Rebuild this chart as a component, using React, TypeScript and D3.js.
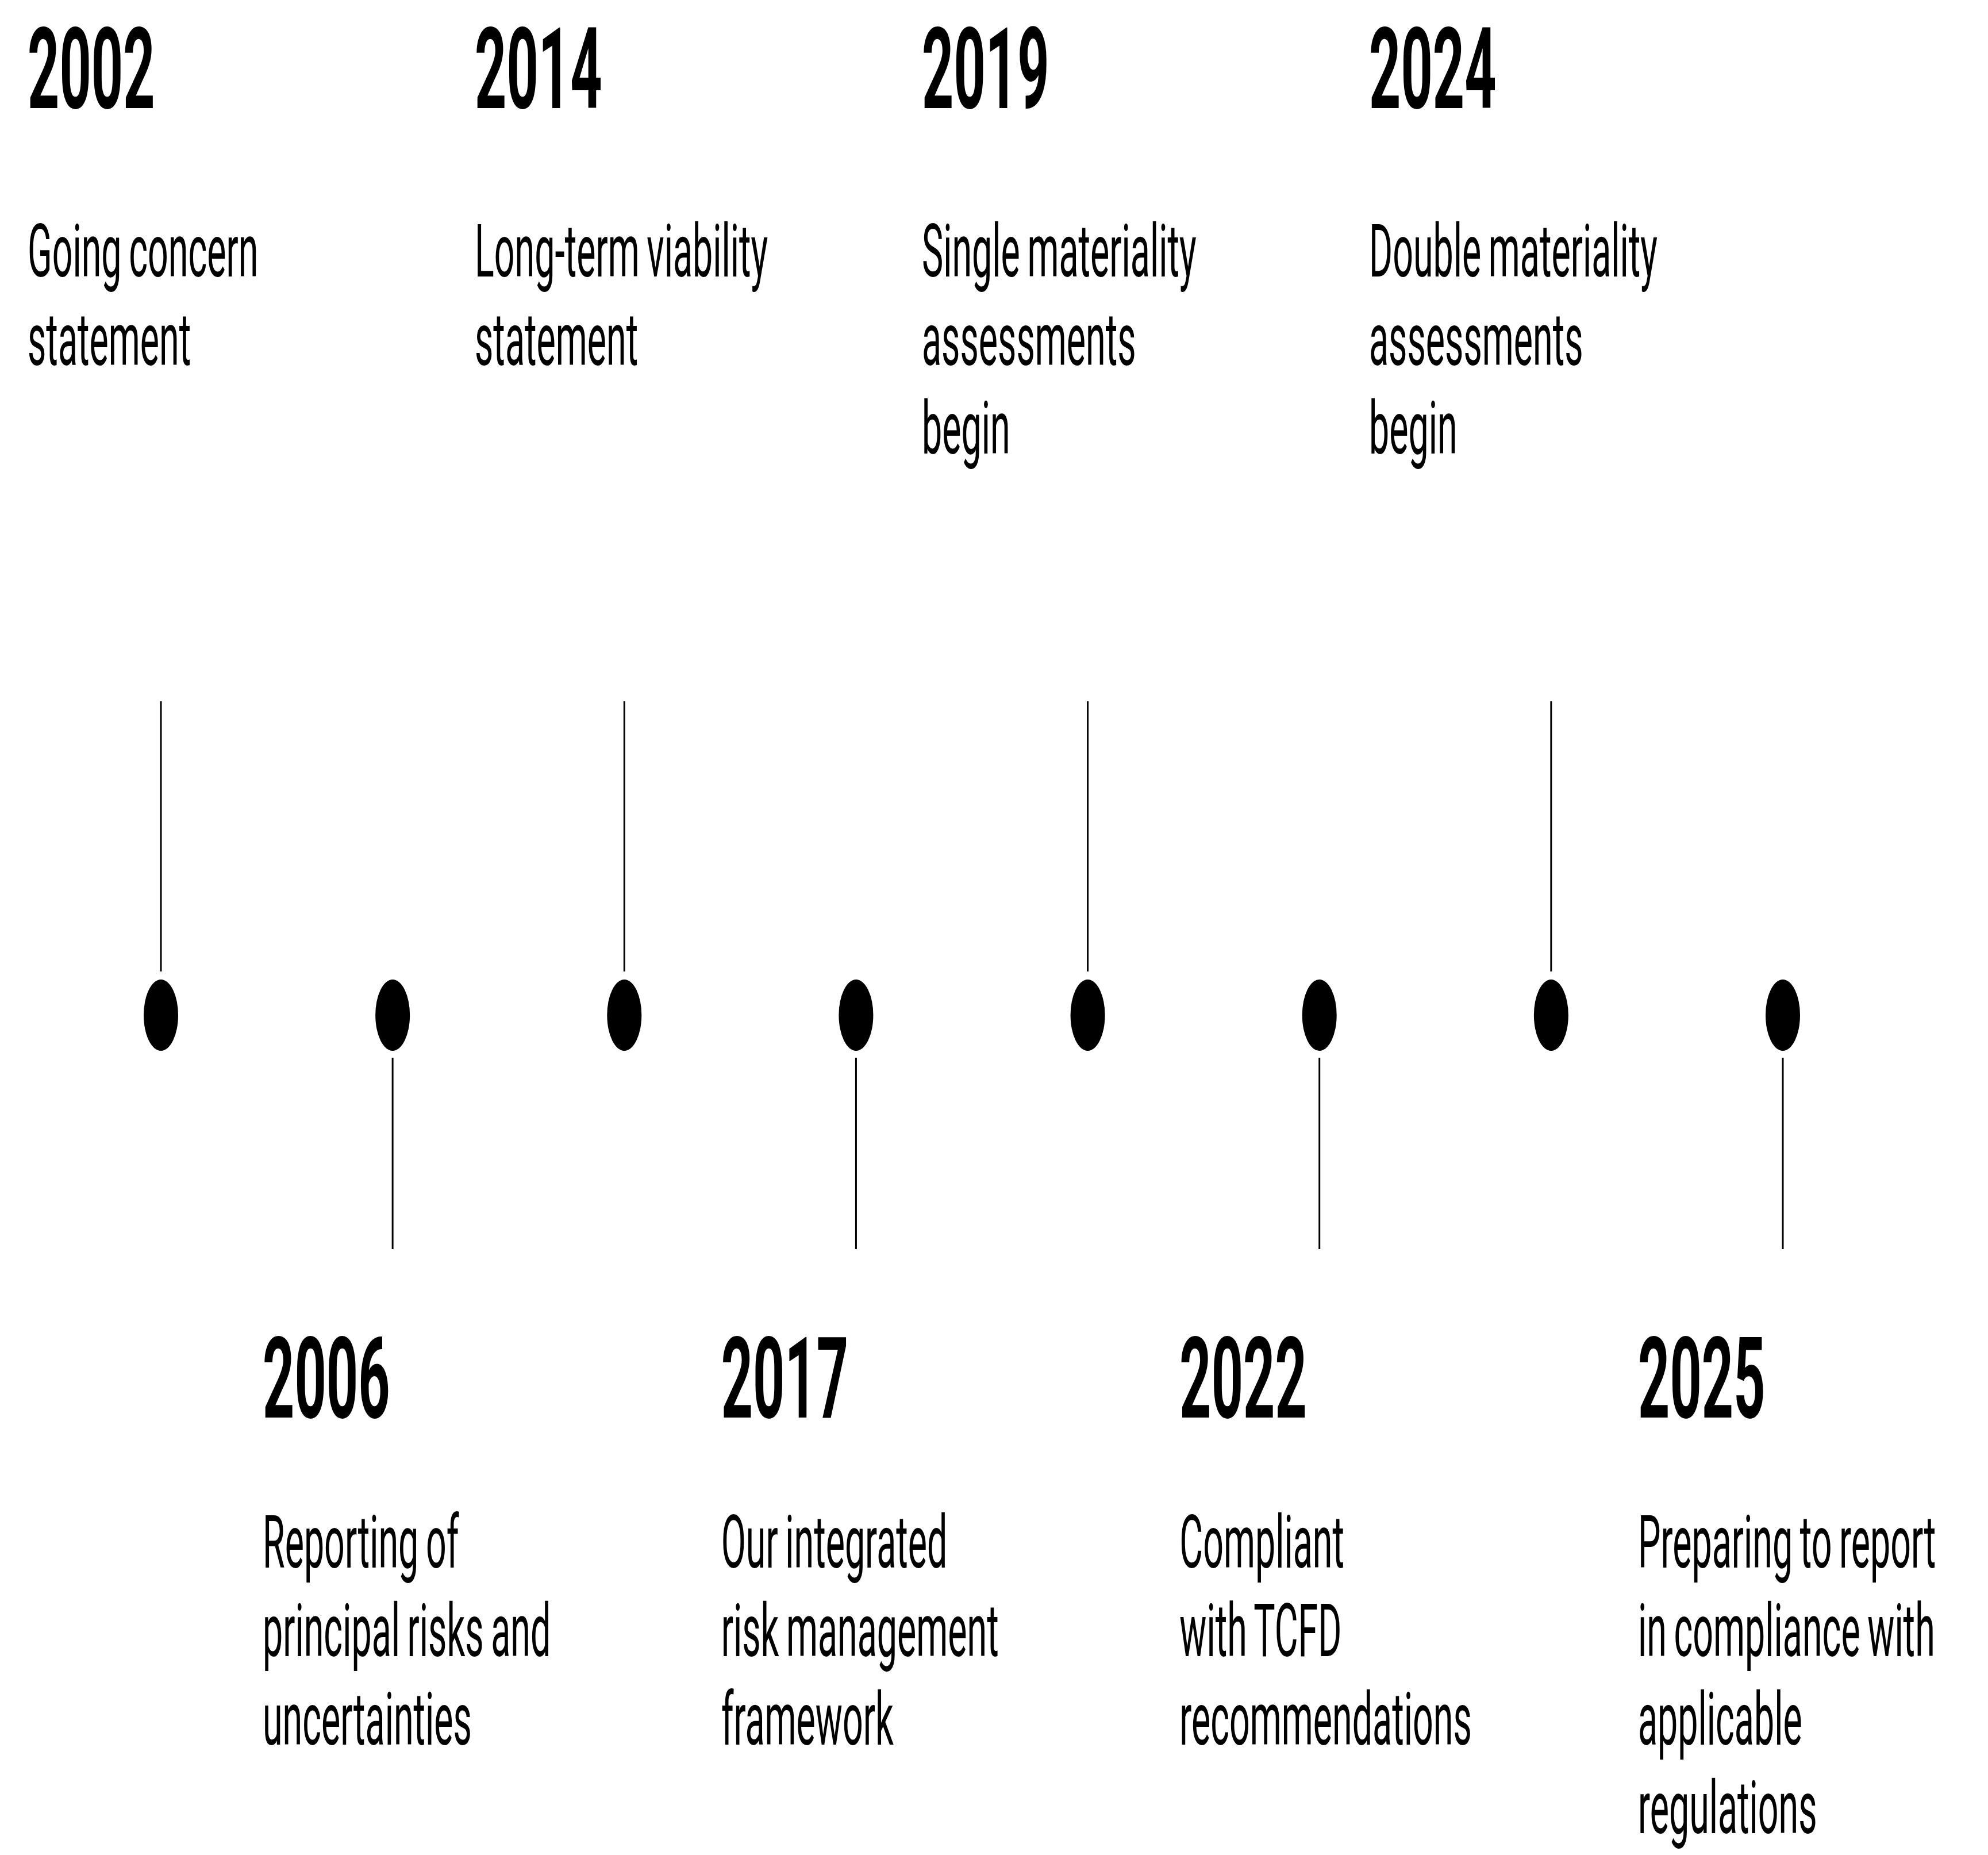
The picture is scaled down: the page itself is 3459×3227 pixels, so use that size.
import React, { useEffect, useRef } from 'react'
import * as d3 from 'd3'

const years = ['2002', '2006', '2014', '2017', '2019', '2022', '2024', '2025']
const sides = ['top', 'bottom', 'top', 'bottom', 'top', 'bottom', 'top', 'bottom']
const labels = [
    ['Going concern', 'statement'],
    ['Reporting of', 'principal risks and', 'uncertainties'],
    ['Long-term viability', 'statement'],
    ['Our integrated', 'risk management', 'framework'],
    ['Single materiality', 'assessments', 'begin'],
    ['Compliant', 'with TCFD', 'recommendations'],
    ['Double materiality', 'assessments', 'begin'],
    ['Preparing to report', 'in compliance with', 'applicable', 'regulations']
]

const W = 3459
const H = 3227

export default function App() {
    const ref = useRef(null)

    useEffect(() => {
        const svg = d3.select(ref.current)
        svg.selectAll('*').remove()

        const x = d3.scalePoint().domain(years).range([280, 3102])
        const dotY = 1766

        // text columns are not exactly under the dots
        const topCols = years.filter((d, i) => sides[i] === 'top')
        const botCols = years.filter((d, i) => sides[i] === 'bottom')
        const xTop = d3.scalePoint().domain(topCols).range([48, 2382])
        const xBot = d3.scalePoint().domain(botCols).range([457, 2850])

        const items = years.map((y, i) => ({ year: y, side: sides[i], lines: labels[i] }))

        const g = svg.append('g')

        // stems
        g.selectAll('.stem')
            .data(items)
            .enter()
            .append('line')
            .attr('class', 'stem')
            .attr('x1', d => x(d.year))
            .attr('x2', d => x(d.year))
            .attr('y1', d => d.side === 'top' ? 1220 : 1840)
            .attr('y2', d => d.side === 'top' ? 1690 : 2173)
            .attr('stroke', '#000')
            .attr('stroke-width', 3)

        // dots
        g.selectAll('.dot')
            .data(items)
            .enter()
            .append('ellipse')
            .attr('class', 'dot')
            .attr('cx', d => x(d.year))
            .attr('cy', dotY)
            .attr('rx', 30)
            .attr('ry', 62)
            .attr('fill', '#000')

        const sx = 0.49
        const font = 'Roboto, "Noto Sans", sans-serif'

        const label = g.selectAll('.label')
            .data(items)
            .enter()
            .append('g')
            .attr('class', 'label')
            .attr('transform', d => {
                const tx = d.side === 'top' ? xTop(d.year) : xBot(d.year)
                return 'translate(' + tx + ',0)'
            })

        label.append('text')
            .attr('transform', d => 'translate(0,' + (d.side === 'top' ? 188 : 2466) + ') scale(' + sx + ',1)')
            .attr('font-family', font)
            .attr('font-weight', 700)
            .attr('font-size', 197)
            .attr('fill', '#000')
            .text(d => d.year)

        label.each(function (d) {
            const y0 = d.side === 'top' ? 481 : 2727
            d3.select(this).selectAll('.desc')
                .data(d.lines)
                .enter()
                .append('text')
                .attr('class', 'desc')
                .attr('transform', (t, i) => 'translate(0,' + (y0 + i * 154) + ') scale(' + sx + ',1)')
                .attr('font-family', font)
                .attr('font-weight', 400)
                .attr('font-size', 128)
                .attr('word-spacing', -6)
                .attr('fill', '#000')
                .text(t => t)
        })
    }, [])

    return (
        <svg ref={ref} width={W} height={H}
            style={{ position: 'absolute', left: 0, top: 0, background: '#fff' }} />
    )
}
